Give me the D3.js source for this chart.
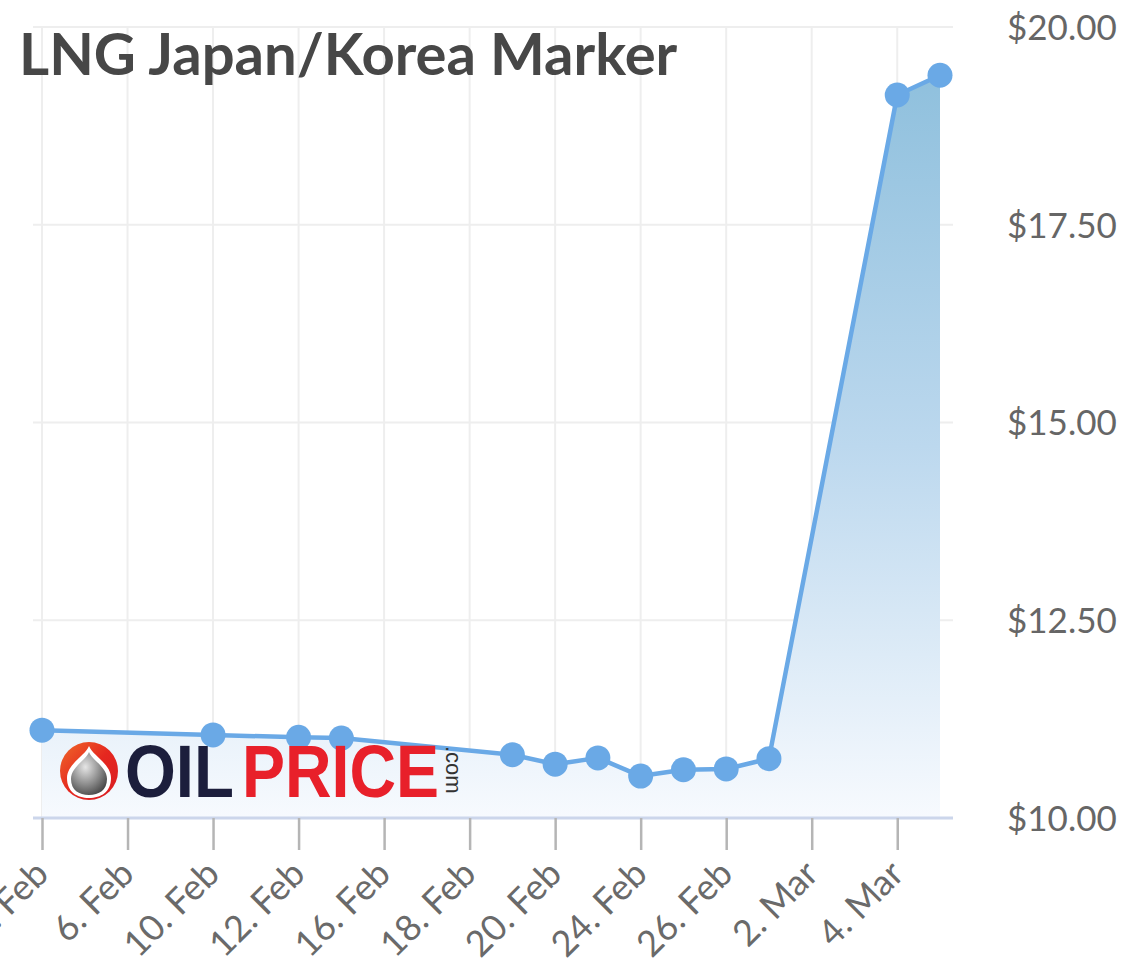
<!DOCTYPE html>
<html>
<head>
<meta charset="utf-8">
<script src="https://cdn.jsdelivr.net/npm/d3@7/dist/d3.min.js"></script>
<style>
  html, body { margin: 0; padding: 0; background: #fff; }
  svg { display: block; }
</style>
</head>
<body>
<svg id="chart" width="1129" height="966"></svg>
<script>
// ---- data ----
const title = "LNG Japan/Korea Marker";
const categories = ["4. Feb","5. Feb","6. Feb","9. Feb","10. Feb","11. Feb","12. Feb","13. Feb",
  "16. Feb","17. Feb","18. Feb","19. Feb","20. Feb","23. Feb","24. Feb","25. Feb","26. Feb",
  "27. Feb","2. Mar","3. Mar","4. Mar","5. Mar"];
const prices = [11.11,null,null,null,11.05,null,11.02,11.01,null,null,null,10.80,10.68,10.76,
  10.53,10.61,10.62,10.75,null,null,19.14,19.39];
const tickLabels = ["4. Feb","6. Feb","10. Feb","12. Feb","16. Feb","18. Feb","20. Feb",
  "24. Feb","26. Feb","2. Mar","4. Mar"];
const yTicks = [10, 12.5, 15, 17.5, 20];

// ---- layout ----
const svg = d3.select("#chart");
const plotLeft = 33, plotRight = 953, plotTop = 27, plotBottom = 818;
const lineColor = "#6aa9e6";

const x = d3.scalePoint().domain(categories).range([42, 940]);
const y = d3.scaleLinear().domain([10, 20]).range([plotBottom, plotTop]);

const data = categories.map((c, i) => ({cat: c, v: prices[i]})).filter(d => d.v != null);

// gradient
const defs = svg.append("defs");
const grad = defs.append("linearGradient").attr("id", "areaGrad")
  .attr("gradientUnits", "userSpaceOnUse")
  .attr("x1", 0).attr("y1", y(19.4)).attr("x2", 0).attr("y2", plotBottom);
grad.append("stop").attr("offset", 0).attr("stop-color", "rgb(143,192,221)");
grad.append("stop").attr("offset", 0.5).attr("stop-color", "rgb(188,216,238)");
grad.append("stop").attr("offset", 1).attr("stop-color", "rgb(247,250,254)");

// gridlines
const grid = svg.append("g");
grid.selectAll("line.h").data(yTicks).join("line")
  .attr("x1", plotLeft).attr("x2", plotRight)
  .attr("y1", d => y(d)).attr("y2", d => y(d))
  .attr("stroke", "#eeeeee").attr("stroke-width", 2);
grid.selectAll("line.v").data(tickLabels).join("line")
  .attr("x1", d => x(d)).attr("x2", d => x(d))
  .attr("y1", plotTop).attr("y2", plotBottom)
  .attr("stroke", "#eeeeee").attr("stroke-width", 2);

// area + line
svg.append("path").datum(data)
  .attr("d", d3.area().x(d => x(d.cat)).y0(plotBottom).y1(d => y(d.v)))
  .attr("fill", "url(#areaGrad)");
svg.append("path").datum(data)
  .attr("d", d3.line().x(d => x(d.cat)).y(d => y(d.v)))
  .attr("fill", "none").attr("stroke", lineColor).attr("stroke-width", 4.5)
  .attr("stroke-linejoin", "round");
svg.append("g").selectAll("circle").data(data).join("circle")
  .attr("cx", d => x(d.cat)).attr("cy", d => y(d.v)).attr("r", 12.5)
  .attr("fill", lineColor);

// x axis
const xAxis = svg.append("g").attr("transform", `translate(0,${plotBottom})`)
  .call(d3.axisBottom(x).tickValues(tickLabels).tickSize(32).tickPadding(0));
xAxis.select(".domain").attr("d", `M${plotLeft},0H${plotRight}`)
  .attr("stroke", "#ccd6eb").attr("stroke-width", 3);
xAxis.selectAll(".tick line").attr("stroke", "#b5b5b5").attr("stroke-width", 2.5);
xAxis.selectAll(".tick text")
  .attr("font-family", "Lato, 'Open Sans', sans-serif").attr("font-size", 36)
  .attr("fill", "#6a6a6a").attr("text-anchor", "end")
  .attr("transform", "translate(8,58) rotate(-45)")
  .attr("y", 0).attr("dy", "0");

// y axis (right)
const yAxis = svg.append("g").attr("transform", `translate(1007,0)`)
  .call(d3.axisRight(y).tickValues(yTicks).tickSize(0).tickPadding(0)
    .tickFormat(d => "$" + d.toFixed(2)));
yAxis.select(".domain").remove();
yAxis.selectAll(".tick text")
  .attr("font-family", "Lato, 'Open Sans', sans-serif").attr("font-size", 35)
  .attr("fill", "#666").attr("dy", "0.35em");

// title
const t = svg.append("text").attr("x", 19).attr("y", 75)
  .attr("font-family", "Lato, 'Open Sans', sans-serif").attr("font-weight", 700)
  .attr("font-size", 58).attr("fill", "#474747").text(title);
const tw = t.node().getComputedTextLength();
if (Math.abs(tw - 657) > 4) t.attr("textLength", 657).attr("lengthAdjust", "spacingAndGlyphs");

// watermark logo
const logo = svg.append("g");
const lg = defs.append("linearGradient").attr("id", "ringGrad")
  .attr("x1", 0).attr("y1", 0).attr("x2", 1).attr("y2", 1);
lg.append("stop").attr("offset", 0).attr("stop-color", "#ef6a2a");
lg.append("stop").attr("offset", 0.5).attr("stop-color", "#e5271f");
lg.append("stop").attr("offset", 1).attr("stop-color", "#d81c22");
const rg = defs.append("radialGradient").attr("id", "dropGrad")
  .attr("cx", 0.4).attr("cy", 0.35).attr("r", 0.7);
rg.append("stop").attr("offset", 0).attr("stop-color", "#e6e6e6");
rg.append("stop").attr("offset", 0.6).attr("stop-color", "#8a8a8a");
rg.append("stop").attr("offset", 1).attr("stop-color", "#4a4a4a");
logo.append("circle").attr("cx", 89).attr("cy", 771).attr("r", 29).attr("fill", "url(#ringGrad)");
logo.append("path")
  .attr("d", "M89,746 C93,756 111,764 111,778 C111,792 101,798 89,798 C77,798 67,792 67,778 C67,764 85,756 89,746 Z")
  .attr("fill", "#fff");
logo.append("path")
  .attr("d", "M89,752 C92,760 107,767 107,779 C107,790 99,795 89,795 C79,795 71,790 71,779 C71,767 86,760 89,752 Z")
  .attr("fill", "url(#dropGrad)");
logo.append("text").attr("x", 125).attr("y", 797)
  .attr("font-family", "'Liberation Sans', Arial, sans-serif").attr("font-size", 74)
  .attr("font-weight", 700).attr("fill", "#1c1e3c").text("OIL")
  .attr("textLength", 109).attr("lengthAdjust", "spacingAndGlyphs");
logo.append("text").attr("x", 242).attr("y", 797)
  .attr("font-family", "'Liberation Sans', Arial, sans-serif").attr("font-size", 74)
  .attr("font-weight", 700).attr("fill", "#e8202a").text("PRICE")
  .attr("textLength", 197).attr("lengthAdjust", "spacingAndGlyphs");
logo.append("text").attr("transform", "translate(446,746) rotate(90)")
  .attr("font-family", "'Liberation Sans', Arial, sans-serif").attr("font-size", 22)
  .attr("fill", "#333").text(".com");
</script>
</body>
</html>
